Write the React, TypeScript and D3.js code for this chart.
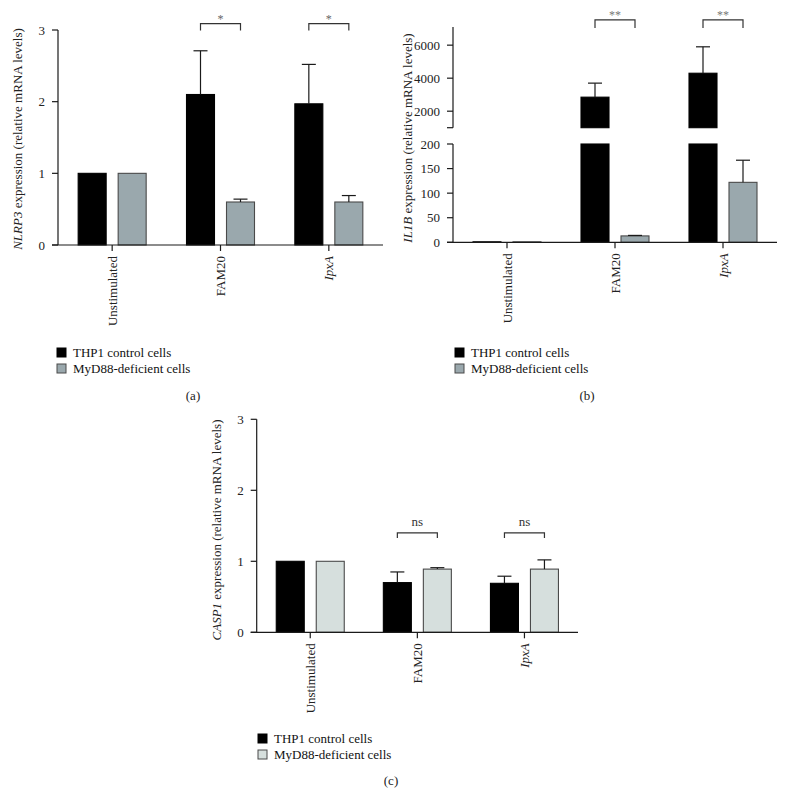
import React from "react";
import * as d3 from "d3";

const categories = ["Unstimulated", "FAM20", "IpxA"];
const italicCategories = ["IpxA"];
const seriesNames = ["THP1 control cells", "MyD88-deficient cells"];

// Panel (a) NLRP3
const nlrp3THP1 = [1, 2.1, 1.97];
const nlrp3THP1Err = [0, 0.61, 0.55];
const nlrp3MyD88 = [1, 0.6, 0.6];
const nlrp3MyD88Err = [0, 0.04, 0.09];
const nlrp3Ticks = [0, 1, 2, 3];
const nlrp3Sig = ["", "*", "*"];
const nlrp3SigLevel = 3.09;

// Panel (b) IL1B (broken axis)
const il1bTHP1 = [1, 2850, 4300];
const il1bTHP1Err = [0, 850, 1600];
const il1bMyD88 = [1, 13, 122];
const il1bMyD88Err = [0, 1, 45];
const il1bLowTicks = [0, 50, 100, 150, 200];
const il1bHighTicks = [2000, 4000, 6000];
const il1bLowDomain = [0, 200];
const il1bHighDomain = [1000, 7100];
const il1bSig = ["", "**", "**"];
const il1bSigLevel = 7530;

// Panel (c) CASP1
const casp1THP1 = [1, 0.7, 0.69];
const casp1THP1Err = [0, 0.15, 0.1];
const casp1MyD88 = [1, 0.89, 0.89];
const casp1MyD88Err = [0, 0.02, 0.13];
const casp1Ticks = [0, 1, 2, 3];
const casp1Sig = ["", "ns", "ns"];
const casp1SigLevel = 1.4;

const FONT = "'Liberation Serif', 'Times New Roman', serif";
const AX = "#1a1a1a";

type Seg = { scale: d3.ScaleLinear<number, number>; lo: number; hi: number };

function makeSegs(broken: boolean, linDomain: number[], y0: number, yTop: number): Seg[] {
  if (!broken) {
    const s = d3.scaleLinear().domain(linDomain).range([y0, yTop]);
    return [{ scale: s, lo: linDomain[0], hi: linDomain[1] }];
  }
  const low = d3.scaleLinear().domain(il1bLowDomain).range([y0, 144]);
  const high = d3.scaleLinear().domain(il1bHighDomain).range([127.7, yTop]);
  return [
    { scale: low, lo: il1bLowDomain[0], hi: il1bLowDomain[1] },
    { scale: high, lo: il1bHighDomain[0], hi: il1bHighDomain[1] },
  ];
}

function Panel(props: {
  axisX: number;
  xEnd: number;
  y0: number;
  yTop: number;
  broken?: boolean;
  domain: number[];
  ticks: number[];
  highTicks?: number[];
  a: number[];
  aErr: number[];
  b: number[];
  bErr: number[];
  grayFill: string;
  sig: string[];
  sigLevel: number;
  sigLeg: number;
  sigColor: string;
  gene: string;
  yLabelX: number;
  yLabelY: number;
  legendX: number;
  legendY: number;
  caption: string;
  captionX: number;
  captionY: number;
}) {
  const p = props;
  const segs = makeSegs(!!p.broken, p.domain, p.y0, p.yTop);
  const lowScale = segs[0].scale;
  const topScale = segs[segs.length - 1].scale;
  const x = d3.scaleBand<string>().domain(categories).range([p.axisX, p.xEnd]).padding(0);
  const sub = d3.scaleBand<string>().domain(seriesNames).range([-34, 34]).paddingInner(0.3);
  const bw = sub.bandwidth();
  const center = (c: string) => (x(c) as number) + x.bandwidth() / 2;

  const yOf = (v: number) => {
    for (const s of segs) if (v <= s.hi) return s.scale(v);
    return topScale(v);
  };

  const bars: React.ReactNode[] = [];
  const errs: React.ReactNode[] = [];
  const series = [
    { name: seriesNames[0], vals: p.a, err: p.aErr, fill: "#000000", stroke: "#000000" },
    { name: seriesNames[1], vals: p.b, err: p.bErr, fill: p.grayFill, stroke: "#4a4a4a" },
  ];
  series.forEach((s, si) => {
    categories.forEach((c, ci) => {
      const v = s.vals[ci];
      const bx = center(c) + (sub(s.name) as number);
      segs.forEach((seg, gi) => {
        if (v <= seg.lo && gi > 0) return;
        const top = Math.min(v, seg.hi);
        const yT = seg.scale(top);
        const yB = seg.scale(seg.lo);
        bars.push(
          <rect
            key={`b${si}-${ci}-${gi}`}
            x={bx}
            y={yT}
            width={bw}
            height={Math.max(0.6, yB - yT)}
            fill={s.fill}
            stroke={s.stroke}
            strokeWidth={1.1}
          />
        );
      });
      const e = s.err[ci];
      if (e > 0) {
        const cx = bx + bw / 2;
        const y1 = yOf(v);
        const y2 = yOf(v + e);
        errs.push(
          <g key={`e${si}-${ci}`} stroke="#1a1a1a" strokeWidth={1.2}>
            <line x1={cx} x2={cx} y1={y1} y2={y2} />
            <line x1={cx - 7} x2={cx + 7} y1={y2} y2={y2} />
          </g>
        );
      }
    });
  });

  const sigY = topScale(p.sigLevel);
  const brackets = categories.map((c, ci) => {
    if (!p.sig[ci]) return null;
    const xl = center(c) + (sub(seriesNames[0]) as number) + bw / 2;
    const xr = center(c) + (sub(seriesNames[1]) as number) + bw / 2;
    const isStar = p.sig[ci].indexOf("*") >= 0;
    return (
      <g key={`s${ci}`}>
        <path
          d={`M${xl},${sigY + p.sigLeg}V${sigY}H${xr}V${sigY + p.sigLeg}`}
          fill="none"
          stroke="#333"
          strokeWidth={1.2}
        />
        <text
          x={(xl + xr) / 2}
          y={isStar ? sigY - 0.5 : sigY - 7}
          textAnchor="middle"
          fontSize={isStar ? 12 : 13}
          fill={p.sigColor}
          fontFamily={FONT}
        >
          {p.sig[ci]}
        </text>
      </g>
    );
  });

  // y axis
  const yAxisParts: React.ReactNode[] = [];
  segs.forEach((seg, gi) => {
    yAxisParts.push(
      <line
        key={`ya${gi}`}
        x1={p.axisX}
        x2={p.axisX}
        y1={seg.scale(seg.lo)}
        y2={gi === segs.length - 1 ? p.yTop : seg.scale(seg.hi)}
        stroke={AX}
        strokeWidth={1.2}
      />
    );
  });
  const tickList: { y: number; label: string }[] = [];
  if (p.broken) {
    il1bLowTicks.forEach((t) => tickList.push({ y: segs[0].scale(t), label: String(t) }));
    tickList.push({ y: segs[1].scale(il1bHighDomain[0]), label: "" });
    (p.highTicks || []).forEach((t) => tickList.push({ y: segs[1].scale(t), label: String(t) }));
  } else {
    p.ticks.forEach((t) => tickList.push({ y: lowScale(t), label: String(t) }));
  }

  return (
    <g fontFamily={FONT}>
      {bars}
      {errs}
      {brackets}
      {yAxisParts}
      {tickList.map((t, i) => (
        <g key={`t${i}`}>
          <line x1={p.axisX - 6} x2={p.axisX} y1={t.y} y2={t.y} stroke={AX} strokeWidth={1.2} />
          {t.label && (
            <text x={p.axisX - 13} y={t.y} dy="0.35em" textAnchor="end" fontSize={13} fill="#222">
              {t.label}
            </text>
          )}
        </g>
      ))}
      <line x1={p.axisX - 6} x2={p.xEnd} y1={p.y0} y2={p.y0} stroke={AX} strokeWidth={1.2} />
      {categories.map((c) => (
        <g key={`c${c}`}>
          <line x1={center(c)} x2={center(c)} y1={p.y0} y2={p.y0 + 6} stroke={AX} strokeWidth={1.2} />
          <text
            transform={`translate(${center(c)},${p.y0 + 11}) rotate(-90)`}
            dy="0.35em"
            textAnchor="end"
            fontSize={13}
            fill="#222"
            fontStyle={italicCategories.indexOf(c) >= 0 ? "italic" : "normal"}
          >
            {c}
          </text>
        </g>
      ))}
      <text
        transform={`translate(${p.yLabelX},${p.yLabelY}) rotate(-90)`}
        dy="0.35em"
        textAnchor="middle"
        fontSize={13}
        fill="#222"
      >
        <tspan fontStyle="italic">{p.gene}</tspan>
        <tspan> expression (relative mRNA levels)</tspan>
      </text>
      {seriesNames.map((s, i) => (
        <g key={`l${i}`}>
          <rect
            x={p.legendX}
            y={p.legendY + i * 16 - 9}
            width={9}
            height={9}
            fill={i === 0 ? "#000" : p.grayFill}
            stroke={i === 0 ? "#000" : "#4a4a4a"}
            strokeWidth={1}
          />
          <text x={p.legendX + 16} y={p.legendY + i * 16} fontSize={13} fill="#111">
            {s}
          </text>
        </g>
      ))}
      <text x={p.captionX} y={p.captionY} textAnchor="middle" fontSize={13} fill="#222">
        {p.caption}
      </text>
    </g>
  );
}

export default function App() {
  return (
    <svg
      width={786}
      height={807}
      style={{ position: "absolute", left: 0, top: 0, background: "#fff" }}
    >
      <rect width={786} height={807} fill="#fff" />
      <Panel
        axisX={58}
        xEnd={383}
        y0={245}
        yTop={30}
        domain={[0, 3]}
        ticks={nlrp3Ticks}
        a={nlrp3THP1}
        aErr={nlrp3THP1Err}
        b={nlrp3MyD88}
        bErr={nlrp3MyD88Err}
        grayFill="#9aa8ad"
        sig={nlrp3Sig}
        sigLevel={nlrp3SigLevel}
        sigLeg={7}
        sigColor="#666"
        gene="NLRP3"
        yLabelX={17}
        yLabelY={139}
        legendX={57}
        legendY={357}
        caption="(a)"
        captionX={193}
        captionY={400}
      />
      <Panel
        axisX={453}
        xEnd={777}
        y0={242.3}
        yTop={27}
        broken
        domain={[0, 200]}
        ticks={il1bLowTicks}
        highTicks={il1bHighTicks}
        a={il1bTHP1}
        aErr={il1bTHP1Err}
        b={il1bMyD88}
        bErr={il1bMyD88Err}
        grayFill="#9aa8ad"
        sig={il1bSig}
        sigLevel={il1bSigLevel}
        sigLeg={8}
        sigColor="#777"
        gene="IL1B"
        yLabelX={407}
        yLabelY={138}
        legendX={455}
        legendY={357}
        caption="(b)"
        captionX={587}
        captionY={400}
      />
      <Panel
        axisX={256.7}
        xEnd={578}
        y0={632.3}
        yTop={419.3}
        domain={[0, 3]}
        ticks={casp1Ticks}
        a={casp1THP1}
        aErr={casp1THP1Err}
        b={casp1MyD88}
        bErr={casp1MyD88Err}
        grayFill="#d6dfdd"
        sig={casp1Sig}
        sigLevel={casp1SigLevel}
        sigLeg={5}
        sigColor="#333"
        gene="CASP1"
        yLabelX={216}
        yLabelY={530}
        legendX={258}
        legendY={743}
        caption="(c)"
        captionX={391}
        captionY={785}
      />
    </svg>
  );
}
